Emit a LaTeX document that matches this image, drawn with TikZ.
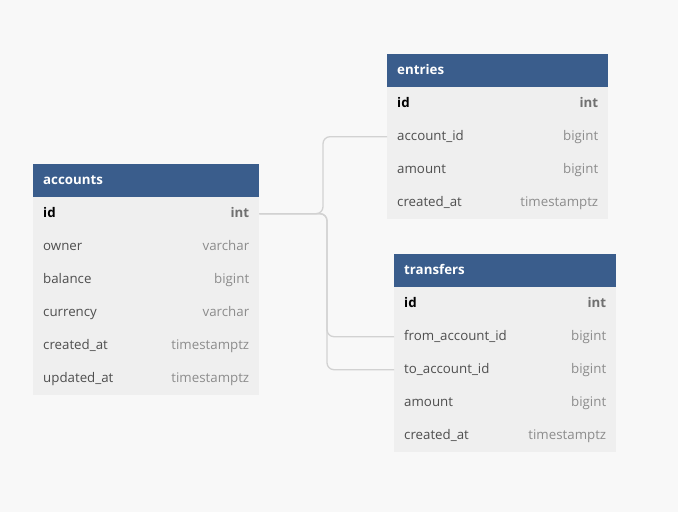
\documentclass[tikz,border=0pt]{standalone}
\usepackage{fontspec}
\setmainfont{Open Sans}
\definecolor{pagebg}{RGB}{248,248,248}
\definecolor{hdrblue}{RGB}{58,93,140}
\definecolor{rowgray}{RGB}{239,239,239}
\definecolor{namegray}{RGB}{78,78,78}
\definecolor{typegray}{RGB}{140,140,140}
\definecolor{keygray}{RGB}{112,112,112}
\definecolor{linkgray}{RGB}{210,210,210}
\tikzset{
  hdr/.style={fill=hdrblue, draw=none, anchor=north west, minimum height=33pt, inner sep=0pt},
  rowbox/.style={fill=rowgray, draw=none, anchor=north west, minimum height=33pt, inner sep=0pt},
  txt/.style={inner sep=0pt, text height=11.5pt, text depth=3pt, font=\fontsize{13.3}{15}\selectfont},
  title/.style={txt, anchor=west, text=white, font=\fontsize{13.3}{15}\selectfont\bfseries},
  fname/.style={txt, anchor=west, text=namegray},
  ftype/.style={txt, anchor=east, text=typegray},
  keyname/.style={txt, anchor=west, text=black, font=\fontsize{13.3}{15}\selectfont\bfseries},
  keytype/.style={txt, anchor=east, text=keygray, font=\fontsize{13.3}{15}\selectfont\bfseries},
  link/.style={draw=linkgray, line width=1.3pt, rounded corners=7pt},
}
% table: name, x, y, width, title, rows (field/type)
\newcommand\dbtable[6]{%
  \node[hdr, minimum width=#4] (#1-0) at (#2,#3) {};
  \node[title] (#1-title) at ([xshift=10pt]#1-0.west) {#5};
  \foreach \f/\t [count=\i] in {#6} {
    \node[rowbox, minimum width=#4] (#1-\i) at (#2,{#3+33*\i}) {};
    \ifnum\i=1
      \node[keyname] (#1-\i-n) at ([xshift=10pt]#1-\i.west) {\f};
      \node[keytype] (#1-\i-t) at ([xshift=-10pt]#1-\i.east) {\t};
    \else
      \node[fname] (#1-\i-n) at ([xshift=10pt]#1-\i.west) {\f};
      \node[ftype] (#1-\i-t) at ([xshift=-10pt]#1-\i.east) {\t};
    \fi
  }%
}
\begin{document}
\begin{tikzpicture}[x=1pt, y=-1pt]
  \useasboundingbox[fill=pagebg] (0,0) rectangle (678,512);

  \dbtable{acc}{33}{164}{226pt}{accounts}{id/int, owner/varchar, balance/bigint, currency/varchar, created\_at/timestamptz, updated\_at/timestamptz}
  \dbtable{ent}{387}{54}{221pt}{entries}{id/int, account\_id/bigint, amount/bigint, created\_at/timestamptz}
  \dbtable{tr}{394}{254}{222pt}{transfers}{id/int, from\_account\_id/bigint, to\_account\_id/bigint, amount/bigint, created\_at/timestamptz}

  % foreign key links
  \draw[link] (acc-1.east) -| ([xshift=-64pt]ent-2.west) -- (ent-2.west);
  \draw[link] (acc-1.east) -| ([xshift=-67pt]tr-2.west) -- (tr-2.west);
  \draw[link] (acc-1.east) -| ([xshift=-67pt]tr-3.west) -- (tr-3.west);
\end{tikzpicture}
\end{document}
